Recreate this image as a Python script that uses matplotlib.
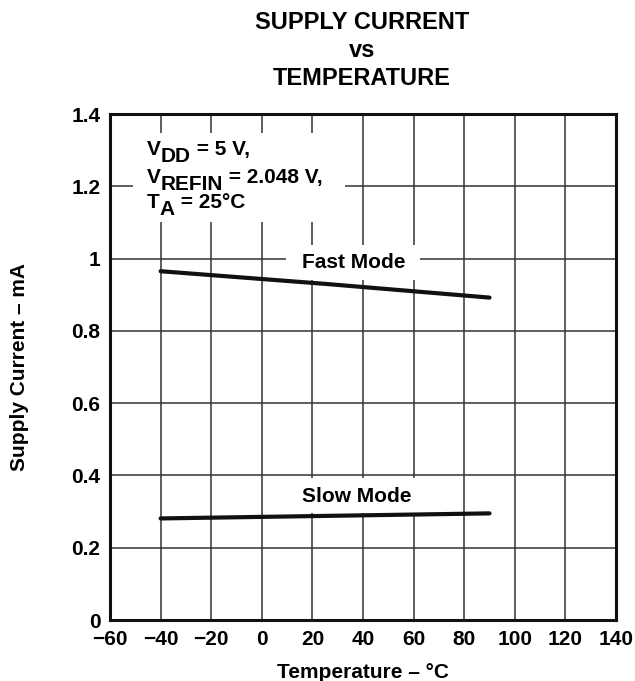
import matplotlib
matplotlib.use("Agg")
import matplotlib.pyplot as plt
from matplotlib.patches import Rectangle

plt.rcParams['font.family'] = ['Liberation Sans', 'DejaVu Sans']
plt.rcParams['font.weight'] = 'bold'
plt.rcParams['axes.labelweight'] = 'bold'

# data
temp = [-40, 25, 90]
fast_mode = [0.965, 0.93, 0.892]
slow_mode = [0.281, 0.288, 0.295]

x_ticks = [-60, -40, -20, 0, 20, 40, 60, 80, 100, 120, 140]
x_labels = ['\u221260', '\u221240', '\u221220', '0', '20', '40', '60', '80', '100', '120', '140']
y_ticks = [0, 0.2, 0.4, 0.6, 0.8, 1, 1.2, 1.4]
y_labels = ['0', '0.2', '0.4', '0.6', '0.8', '1', '1.2', '1.4']

# conditions text: (text, subscript?) pieces per line
cond_lines = [
    [('V', False), ('DD', True), (' = 5 V,', False)],
    [('V', False), ('REFIN', True), (' = 2.048 V,', False)],
    [('T', False), ('A', True), (' = 25\u00b0C', False)],
]

fig = plt.figure(figsize=(6.35, 6.81), dpi=100)
ax = fig.add_axes([110 / 635, 61 / 681, 506 / 635, 506 / 681])

ax.plot(temp, fast_mode, color='#111111', lw=3, solid_capstyle='round', zorder=4)
ax.plot(temp, slow_mode, color='#111111', lw=3, solid_capstyle='round', zorder=4)

ax.set_xlim(-60, 140)
ax.set_ylim(0, 1.4)
ax.set_xticks(x_ticks)
ax.set_xticklabels(x_labels)
ax.set_yticks(y_ticks)
ax.set_yticklabels(y_labels)
ax.tick_params(length=0, labelsize=15, pad=7)
ax.grid(True, color='#333333', lw=1.1)
ax.set_axisbelow(True)
for s in ax.spines.values():
    s.set_linewidth(2.2)
    s.set_color('#111111')

# white areas behind the labels (they break the grid)
for x0, y0, w, h in [(-50.9, 1.101, 83.8, 0.246), (9.6, 0.941, 52.9, 0.097), (11.1, 0.296, 53.4, 0.097)]:
    ax.add_patch(Rectangle((x0, y0), w, h, facecolor='white', edgecolor='none', zorder=2))

fs = 15
for y, parts in zip([1.287, 1.209, 1.140], cond_lines):
    prev = ax.text(-45.4, y, parts[0][0], fontsize=fs, va='baseline', ha='left', zorder=5)
    was_sub = False
    for txt, sub in parts[1:]:
        dy = -5 if sub else (5 if was_sub else 0)
        prev = ax.annotate(txt, xy=(1, 0), xycoords=prev, xytext=(0, dy), textcoords='offset points',
                           fontsize=fs, va='bottom', ha='left', zorder=5)
        was_sub = sub

ax.text(15.9, 0.974, 'Fast Mode', fontsize=fs, ha='left', va='baseline', zorder=5)
ax.text(15.9, 0.3265, 'Slow Mode', fontsize=fs, ha='left', va='baseline', zorder=5)

ax.set_xlabel('Temperature \u2013 \u00b0C', fontsize=fs, labelpad=10)
ax.set_ylabel('Supply Current \u2013 mA', fontsize=fs, labelpad=30)
fig.text(362 / 635, 0.984, 'SUPPLY CURRENT\nvs\nTEMPERATURE', fontsize=17, ha='center', va='top',
         linespacing=1.29)

fig.savefig('out.png', dpi=100)
